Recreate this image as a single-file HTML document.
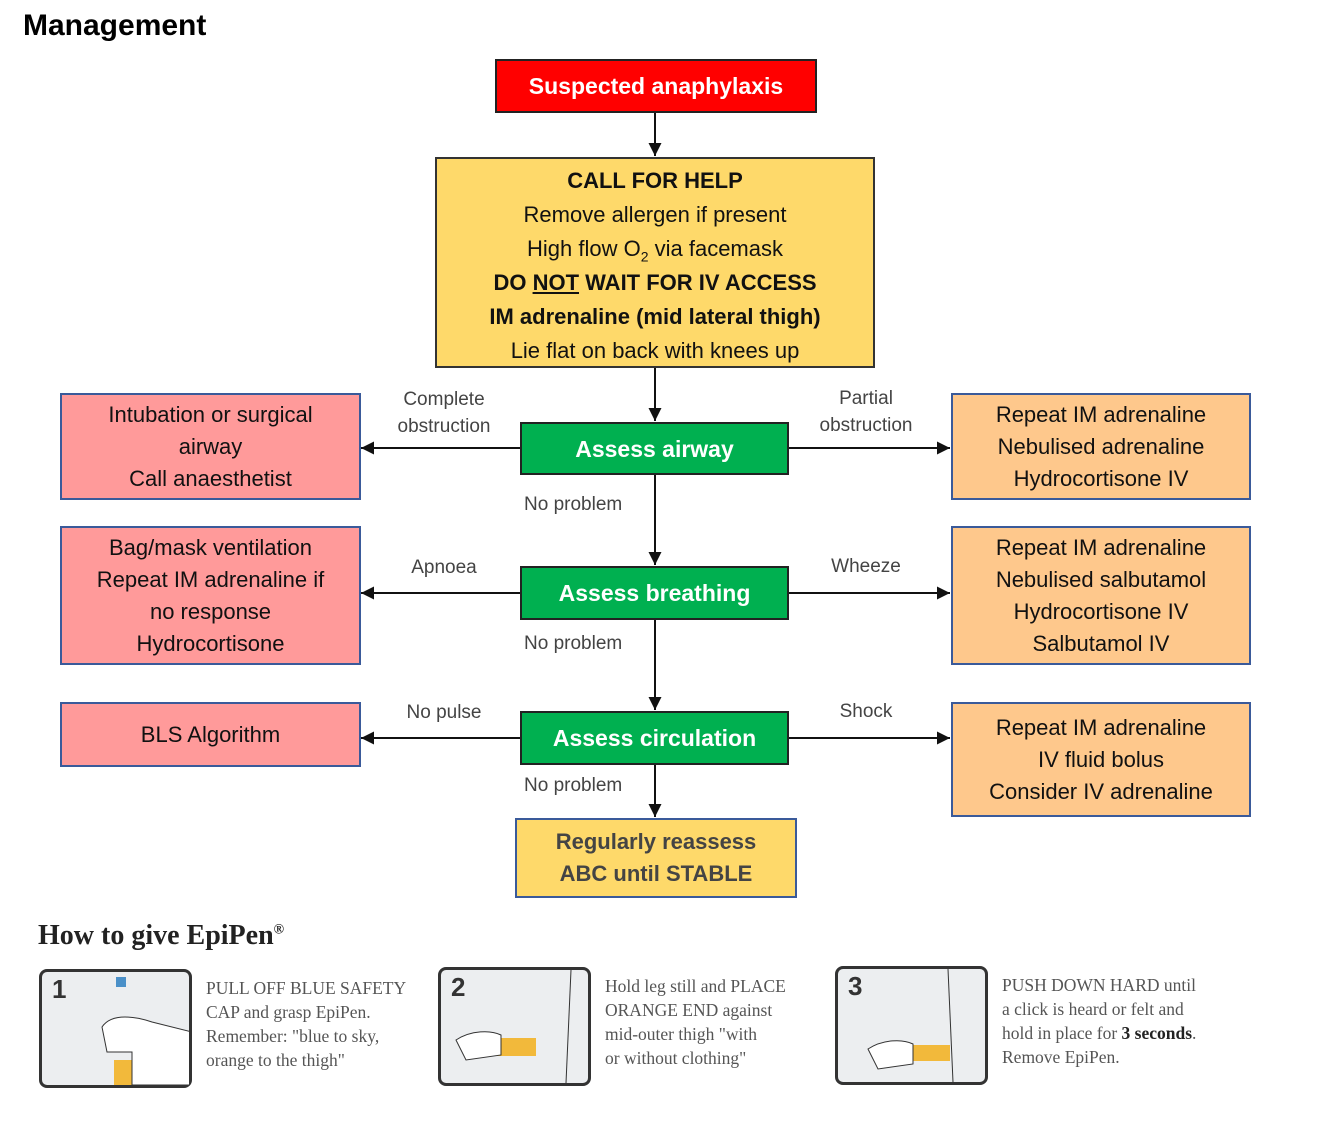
<!DOCTYPE html>
<html><head><meta charset="utf-8"><style>
body{margin:0;width:1334px;height:1132px;background:#fff;position:relative;overflow:hidden;font-family:"Liberation Sans",sans-serif}
.b{position:absolute;box-sizing:border-box;display:flex;flex-direction:column;justify-content:center;align-items:center;text-align:center;font-size:22px;line-height:32px;color:#111}
.g{background:#00b050;border:2px solid #222;color:#fff;font-weight:bold;font-size:23px}
.p{background:#ff9a9a;border:2px solid #3a5a9a}
.o{background:#fec88c;border:2px solid #3a5a9a}
.l{position:absolute;font-size:19px;color:#444;text-align:center;line-height:27px}
.t{position:absolute;font-family:"Liberation Serif",serif;font-size:17.5px;color:#555;line-height:24px}
.pn{position:absolute;box-sizing:border-box;border:3px solid #333;border-radius:8px;background:#eceef0;width:153px;height:119px}
.pn span{position:absolute;left:10px;top:2px;font-size:26px;font-weight:bold;color:#333}
</style></head><body>
<div style="position:absolute;left:23px;top:9px;font-size:30px;font-weight:bold">Management</div>
<svg width="1334" height="1132" style="position:absolute;left:0;top:0">
<defs><marker id="a" markerWidth="14" markerHeight="14" refX="13" refY="6.5" orient="auto" markerUnits="userSpaceOnUse"><path d="M0,0L13,6.5L0,13z" fill="#111"/></marker></defs>
<g stroke="#111" stroke-width="2" fill="none">
<line x1="655" y1="112" x2="655" y2="156" marker-end="url(#a)"/>
<line x1="655" y1="367" x2="655" y2="421" marker-end="url(#a)"/>
<line x1="655" y1="474" x2="655" y2="565" marker-end="url(#a)"/>
<line x1="655" y1="619" x2="655" y2="710" marker-end="url(#a)"/>
<line x1="655" y1="764" x2="655" y2="817" marker-end="url(#a)"/>
<line x1="520" y1="448" x2="361" y2="448" marker-end="url(#a)"/>
<line x1="788" y1="448" x2="950" y2="448" marker-end="url(#a)"/>
<line x1="520" y1="593" x2="361" y2="593" marker-end="url(#a)"/>
<line x1="788" y1="593" x2="950" y2="593" marker-end="url(#a)"/>
<line x1="520" y1="738" x2="361" y2="738" marker-end="url(#a)"/>
<line x1="788" y1="738" x2="950" y2="738" marker-end="url(#a)"/>
</g></svg>
<div class="b" style="left:495px;top:59px;width:322px;height:54px;background:#ff0000;border:2px solid #222;color:#fff;font-weight:bold;font-size:23px">Suspected anaphylaxis</div>
<div class="b" style="left:435px;top:157px;width:440px;height:211px;background:#fed96a;border:2px solid #333;line-height:34px;padding-top:6px">
<b>CALL FOR HELP</b><div>Remove allergen if present</div><div>High flow O<sub style="font-size:14px;line-height:0">2</sub> via facemask</div><b>DO <u>NOT</u> WAIT FOR IV ACCESS</b><b>IM adrenaline (mid lateral thigh)</b><div>Lie flat on back with knees up</div></div>
<div class="b g" style="left:520px;top:422px;width:269px;height:53px">Assess airway</div>
<div class="b g" style="left:520px;top:566px;width:269px;height:54px">Assess breathing</div>
<div class="b g" style="left:520px;top:711px;width:269px;height:54px">Assess circulation</div>
<div class="b" style="left:515px;top:818px;width:282px;height:80px;background:#fed96a;border:2px solid #3a5a9a;font-weight:bold;color:#444">Regularly reassess<br>ABC until STABLE</div>
<div class="b p" style="left:60px;top:393px;width:301px;height:107px">Intubation or surgical<br>airway<br>Call anaesthetist</div>
<div class="b p" style="left:60px;top:526px;width:301px;height:139px">Bag/mask ventilation<br>Repeat IM adrenaline if<br>no response<br>Hydrocortisone</div>
<div class="b p" style="left:60px;top:702px;width:301px;height:65px">BLS Algorithm</div>
<div class="b o" style="left:951px;top:393px;width:300px;height:107px">Repeat IM adrenaline<br>Nebulised adrenaline<br>Hydrocortisone IV</div>
<div class="b o" style="left:951px;top:526px;width:300px;height:139px">Repeat IM adrenaline<br>Nebulised salbutamol<br>Hydrocortisone IV<br>Salbutamol IV</div>
<div class="b o" style="left:951px;top:702px;width:300px;height:115px">Repeat IM adrenaline<br>IV fluid bolus<br>Consider IV adrenaline</div>
<div class="l" style="left:380px;top:386px;width:128px">Complete<br>obstruction</div>
<div class="l" style="left:802px;top:385px;width:128px">Partial<br>obstruction</div>
<div class="l" style="left:380px;top:554px;width:128px">Apnoea</div>
<div class="l" style="left:802px;top:553px;width:128px">Wheeze</div>
<div class="l" style="left:380px;top:699px;width:128px">No pulse</div>
<div class="l" style="left:802px;top:698px;width:128px">Shock</div>
<div class="l" style="left:524px;top:491px">No problem</div>
<div class="l" style="left:524px;top:630px">No problem</div>
<div class="l" style="left:524px;top:772px">No problem</div>
<div style="position:absolute;left:38px;top:920px;font-family:'Liberation Serif',serif;font-weight:bold;font-size:28px;color:#222">How to give EpiPen<sup style="font-size:14px">®</sup></div>
<div class="pn" style="left:39px;top:969px"><span>1</span>
<svg width="147" height="113" style="position:absolute;left:0;top:0"><rect x="72" y="88" width="20" height="25" fill="#f2b93b"/><path d="M60,55 C70,40 95,45 110,50 L150,60 L150,113 L90,113 L90,80 L65,80Z" fill="#fff" stroke="#333"/><rect x="74" y="5" width="10" height="10" fill="#4a90c8"/></svg></div>
<div class="pn" style="left:438px;top:967px"><span>2</span>
<svg width="147" height="113" style="position:absolute;left:0;top:0"><line x1="130" y1="0" x2="125" y2="113" stroke="#333"/><rect x="55" y="68" width="40" height="18" fill="#f2b93b"/><path d="M15,70 C30,60 50,60 60,65 L60,85 L25,90Z" fill="#fff" stroke="#333"/></svg></div>
<div class="pn" style="left:835px;top:966px"><span>3</span>
<svg width="147" height="113" style="position:absolute;left:0;top:0"><line x1="110" y1="0" x2="115" y2="113" stroke="#333"/><rect x="72" y="76" width="40" height="16" fill="#f2b93b"/><path d="M30,80 C45,70 65,70 75,75 L75,95 L40,100Z" fill="#fff" stroke="#333"/></svg></div>
<div class="t" style="left:206px;top:976px">PULL OFF BLUE SAFETY<br>CAP and grasp EpiPen.<br>Remember: "blue to sky,<br>orange to the thigh"</div>
<div class="t" style="left:605px;top:974px">Hold leg still and PLACE<br>ORANGE END against<br>mid-outer thigh "with<br>or without clothing"</div>
<div class="t" style="left:1002px;top:973px">PUSH DOWN HARD until<br>a click is heard or felt and<br>hold in place for <b style="color:#222">3 seconds</b>.<br>Remove EpiPen.</div>
</body></html>
